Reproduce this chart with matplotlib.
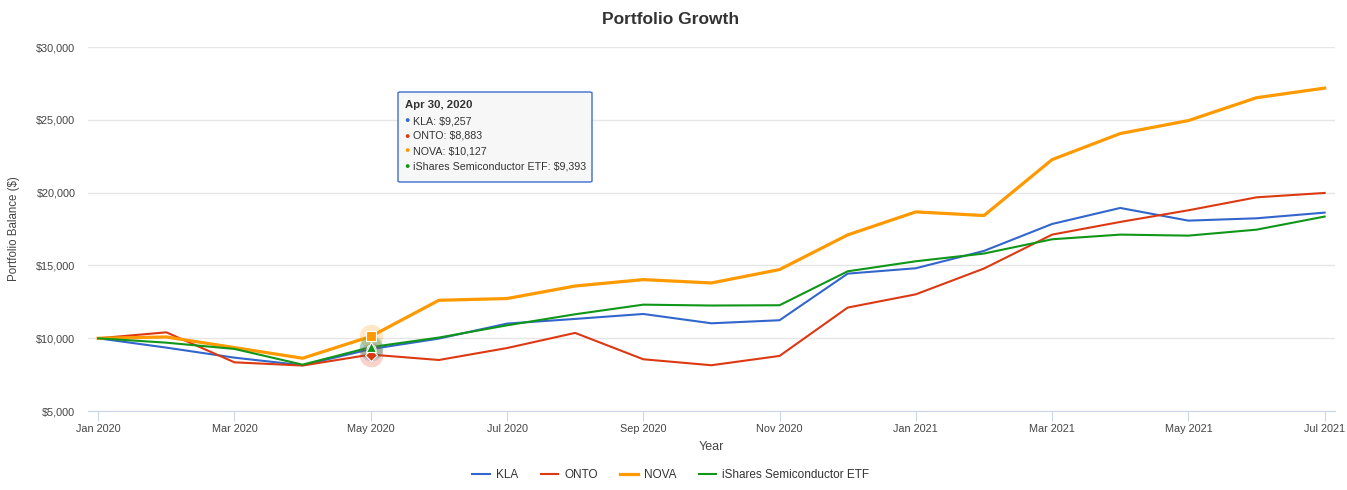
import matplotlib
matplotlib.use("Agg")
import matplotlib.pyplot as plt
from matplotlib.patches import FancyBboxPatch

plt.rcParams['font.family'] = ['Liberation Sans', 'DejaVu Sans']

# monthly balances, Jan 2020 .. Jul 2021
months = ["Jan 2020", "Feb 2020", "Mar 2020", "Apr 2020", "May 2020", "Jun 2020",
          "Jul 2020", "Aug 2020", "Sep 2020", "Oct 2020", "Nov 2020", "Dec 2020",
          "Jan 2021", "Feb 2021", "Mar 2021", "Apr 2021", "May 2021", "Jun 2021",
          "Jul 2021"]
kla = [10000, 9360, 8670, 8150, 9257, 9980, 11010, 11330, 11670, 11030, 11240,
       14440, 14810, 16000, 17850, 18950, 18080, 18240, 18630]
onto = [10000, 10410, 8350, 8130, 8883, 8510, 9330, 10370, 8560, 8150, 8790,
        12110, 13020, 14790, 17120, 17990, 18790, 19680, 19980]
nova = [10000, 10090, 9360, 8630, 10127, 12610, 12730, 13590, 14030, 13800, 14720,
        17100, 18680, 18430, 22270, 24060, 24950, 26520, 27180]
etf = [10000, 9700, 9270, 8190, 9393, 10050, 10890, 11650, 12310, 12250, 12270,
       14600, 15290, 15820, 16800, 17120, 17050, 17460, 18360]

names = ["KLA", "ONTO", "NOVA", "iShares Semiconductor ETF"]
series = [kla, onto, nova, etf]
colors = ["#3366cc", "#dc3912", "#ff9900", "#109618"]
widths = [1.5, 1.5, 2.3, 1.5]
symbols = ["o", "D", "s", "^"]
hover = 4  # Apr 30, 2020 point

yticks = [5000, 10000, 15000, 20000, 25000, 30000]

fig = plt.figure(figsize=(13.47, 4.9), dpi=100)
ax = fig.add_axes([0.0653, 0.161, 0.9257, 0.743])

x = list(range(len(months)))
handles = []
for vals, nm, c, w in zip(series, names, colors, widths):
    h, = ax.plot(x, vals, color=c, lw=w, label=nm, zorder=3, solid_joinstyle="round")
    handles.append(h)

# hover halos and markers
for vals, c in zip(series, colors):
    ax.plot(x[hover], vals[hover], marker="o", ms=17, color=c, alpha=0.22,
            mec="none", zorder=4)
for vals, c, s in zip(series, colors, symbols):
    ax.plot(x[hover], vals[hover], marker=s, ms=6.5, color=c, mec="white",
            mew=0.8, zorder=5)

ax.set_xlim(-0.15, 18.15)
ax.set_ylim(5000, 30000)
ax.set_yticks(yticks)
ax.set_yticklabels(["${:,}".format(v) for v in yticks])
ax.set_xticks(x[::2])
ax.set_xticklabels(months[::2])
ax.grid(axis="y", color="#e6e6e6", lw=1)
ax.set_axisbelow(True)
for side in ["top", "right", "left"]:
    ax.spines[side].set_visible(False)
ax.spines["bottom"].set_color("#ccd6eb")
ax.tick_params(axis="y", length=0, labelsize=7.8, labelcolor="#444444", pad=9)
ax.tick_params(axis="x", length=7, color="#ccd6eb", labelsize=7.8,
               labelcolor="#444444", pad=2)

ax.set_xlabel("Year", fontsize=9, color="#444444", labelpad=5)
ax.set_ylabel("Portfolio Balance ($)", fontsize=8.3, color="#444444", labelpad=12)
fig.text(0.498, 0.96, "Portfolio Growth", ha="center", va="center",
         fontsize=12.5, fontweight="bold", color="#333333")

fig.legend(handles=handles, loc="center", bbox_to_anchor=(0.498, 0.03), ncol=4,
           frameon=False, fontsize=8.5, handlelength=1.5, columnspacing=1.9,
           handletextpad=0.5, labelcolor="#333333")

# tooltip box
box = FancyBboxPatch((398 / 1347, 1 - 182 / 490), 194 / 1347, 90 / 490,
                     boxstyle="round,pad=0,rounding_size=0.002",
                     transform=fig.transFigure, fc="#f7f7f7", ec="#3366cc",
                     lw=1, alpha=0.95, zorder=10)
fig.patches.append(box)
fig.text(405 / 1347, 1 - 105 / 490, "Apr 30, 2020", fontsize=8.2, fontweight="bold",
         color="#333333", va="center", zorder=11)
for k in range(len(names)):
    yy = 1 - (121 + 15 * k) / 490
    fig.text(404 / 1347, yy, "\u25cf", fontsize=6.5, color=colors[k], va="center",
             zorder=11)
    fig.text(413 / 1347, yy, "{}: ${:,}".format(names[k], series[k][hover]),
             fontsize=7.7, color="#333333", va="center", zorder=11)

fig.savefig("out.png", dpi=100)
